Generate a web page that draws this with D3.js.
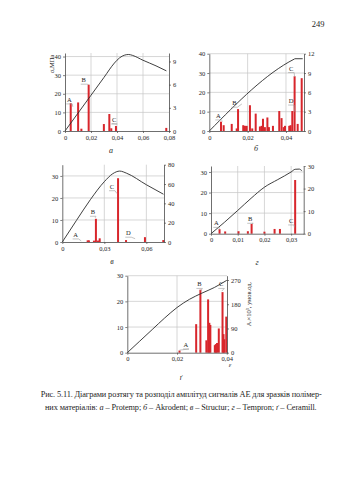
<!DOCTYPE html>
<html><head><meta charset="utf-8">
<script src="https://cdn.jsdelivr.net/npm/d3@7"></script>
<style>
body{margin:0;background:#fff}
svg{display:block}
text{font-family:"Liberation Serif","Times New Roman",serif;fill:#1e1e1e}
</style>
</head><body>
<svg id="c" width="339" height="480"></svg>
<script>
// ---------- DATA ----------
// Panel а – Protemp
const aStrain=[0,0.01,0.02,0.03,0.038,0.042,0.046,0.049,0.052,0.06,0.07,0.078];
const aStress=[0,9.6,19.2,28.8,36.5,39.3,40.8,41.1,40.6,38,35,32.3];
const aBarX=[0.0044,0.0101,0.0126,0.0182,0.0299,0.0341,0.0356,0.0392,0.0779];
const aBarV=[3.6,3.7,0.3,6.0,0.9,2.2,0.35,0.65,0.4];
const aXTicks=[0,0.02,0.04,0.06,0.08], aLTicks=[0,10,20,30,40], aRTicks=[0,3,6,9];
// Panel б – Akrodent
const bStrain=[0,0.0443,0.0447,0.0487];
const bStress=[0,37.2,37.4,37.4];
const bBarX=[0.0061,0.0075,0.0117,0.0143,0.015,0.0177,0.0186,0.0195,0.0212,0.0224,0.0242,0.0264,0.0273,0.028,0.029,0.0303,0.0311,0.0332,0.0365,0.0377,0.0388,0.0395,0.0417,0.0424,0.0433,0.0445,0.0461,0.0482];
const bBarV=[1.45,0.9,1.1,0.4,3.4,0.9,0.8,0.8,4.0,0.4,2.7,0.7,0.8,1.9,0.6,2.1,0.6,0.8,3.1,2.0,0.6,0.8,0.8,0.9,3.1,8.5,1.1,8.2];
const bXTicks=[0,0.02,0.04], bLTicks=[0,10,20,30,40], bRTicks=[0,3,6,9,12];
// Panel в – Structur
const vStrain=[0,0.01,0.02,0.03,0.036,0.041,0.046,0.06,0.0722];
const vStress=[0,9.7,19.2,27.4,31,32.2,31.2,26,21.7];
const vBarX=[0.0181,0.019,0.0226,0.024,0.0255,0.0267,0.0398,0.0455,0.059,0.0721];
const vBarV=[1.7,1.7,1.4,24,1.5,3.8,66,2,5,2];
const vXTicks=[0,0.03,0.06], vLTicks=[0,10,20,30], vRTicks=[0,20,40,60,80];
// Panel г – Tempron
const gStrain=[0,0.005,0.01,0.015,0.02,0.025,0.03,0.0315,0.033,0.034];
const gStress=[0,5.5,11.3,17.2,22.6,26.3,30,31.3,31.4,30.6];
const gBarX=[0.0032,0.0053,0.0103,0.0138,0.0152,0.02,0.0238,0.0258,0.0315];
const gBarV=[2.0,1.0,1.1,1.1,4.3,0.9,2.1,2.1,23.8];
const gXTicks=[0,0.01,0.02,0.03], gLTicks=[0,10,20,30], gRTicks=[0,10,20,30];
// Panel ґ – Ceramill
const hStrain=[0,0.005,0.01,0.015,0.02,0.025,0.03,0.035,0.04];
const hStress=[0,4.5,9,13.5,17.6,20.8,23.2,25.4,28.2];
const hBarX=[0.021,0.0277,0.0294,0.0318,0.0325,0.033,0.0334,0.0352,0.0356,0.0361,0.0368,0.0383,0.0387,0.039,0.0398];
const hBarV=[8,106,234,46,198,111,103,28,32,36,90,225,69,50,134];
const hXTicks=[0,0.02,0.04], hLTicks=[0,10,20,30], hRTicks=[0,90,180,270];
// Stage labels: letter, label position (strain, stress), leader end (strain, stress)
const aLabels=[["A",0.0033,16.7,0.006,13],["B",0.0144,27.3,0.018,25],["C",0.0379,5.9,0.036,4]];
const bLabels=[["A",0.0047,7.8,0.007,5],["B",0.0131,14.4,0.017,14],["C",0.0427,32.3,0.0445,28],["D",0.0427,15.5,0.0445,10]];
const vLabels=[["A",0.0095,3.2,0.0135,0.5],["B",0.0219,13.5,0.0235,11],["C",0.0355,25.1,0.039,22],["D",0.0471,4,0.052,1.5]];
const gLabels=[["A",0.002,5,0.003,2],["B",0.0147,7,0.0153,5],["C",0.030,6.2,0.0312,3]];
const hLabels=[["A",0.0236,3,0.021,1],["B",0.029,26.6,0.0295,24],["C",0.0378,26.6,0.038,24]];

// ---------- DRAW ----------
const svg=d3.select("#c");
const fmt=d=>d===0?"0":String(d).replace(".",",");
const BAR="#d8262c", GRID="#c6c6c6", AX="#4a4a4a";

function panel(p){
  const g=svg.append("g");
  const x=d3.scaleLinear().domain([0,p.xMax]).range([p.x0,p.x1]);
  const yl=d3.scaleLinear().domain([0,p.lMax]).range([p.y0,p.y1]);
  const yr=d3.scaleLinear().domain([0,p.rMax]).range([p.y0,p.y1]);
  g.selectAll("line.vg").data(p.xTicks.filter(t=>t>0&&x(t)<p.x1-2)).join("line")
    .attr("x1",d=>x(d)).attr("x2",d=>x(d)).attr("y1",p.y0).attr("y2",p.y1)
    .attr("stroke",GRID).attr("stroke-width",0.7);
  g.selectAll("line.hg").data(p.lTicks.filter(t=>t>0)).join("line")
    .attr("x1",p.x0).attr("x2",p.x1).attr("y1",d=>yl(d)).attr("y2",d=>yl(d))
    .attr("stroke",GRID).attr("stroke-width",0.7);
  g.selectAll("rect.bar").data(d3.zip(p.bx,p.bv)).join("rect")
    .attr("x",d=>x(d[0])-1).attr("width",2)
    .attr("y",d=>yr(d[1])).attr("height",d=>p.y0-yr(d[1]))
    .attr("fill",BAR);
  g.append("path").datum(d3.zip(p.cx,p.cy))
    .attr("d",d3.line().x(d=>x(d[0])).y(d=>yl(d[1])).curve(d3.curveMonotoneX))
    .attr("fill","none").attr("stroke","#2a2a2a").attr("stroke-width",0.9);
  const style=s=>{s.select(".domain").attr("stroke",AX).attr("stroke-width",0.8);
    s.selectAll(".tick line").attr("stroke",AX).attr("stroke-width",0.7);
    s.selectAll("text").style("font-family",'"Liberation Serif",serif').attr("font-size",6.5).attr("fill","#222");};
  g.append("g").attr("transform",`translate(0,${p.y0})`)
    .call(d3.axisBottom(x).tickValues(p.xTicks).tickFormat(fmt).tickSize(2).tickSizeOuter(0).tickPadding(2)).call(style);
  g.append("g").attr("transform",`translate(${p.x0},0)`)
    .call(d3.axisLeft(yl).tickValues(p.lTicks).tickFormat(d3.format("d")).tickSize(2).tickSizeOuter(0).tickPadding(2)).call(style);
  g.append("g").attr("transform",`translate(${p.x1},0)`)
    .call(d3.axisRight(yr).tickValues(p.rTicks).tickFormat(d3.format("d")).tickSize(2).tickSizeOuter(0).tickPadding(2)).call(style);
  // stage labels
  p.labels.forEach(L=>{
    const lx=x(L[1]), ly=yl(L[2]), ex=x(L[3]), ey=yl(L[4]);
    g.append("path").attr("d",`M${lx-3},${ly+4}L${lx+3},${ly+4}L${ex},${ey}`)
      .attr("fill","none").attr("stroke","#9a9a9a").attr("stroke-width",0.6);
    g.append("text").attr("x",lx).attr("y",ly+2).attr("text-anchor","middle")
      .attr("font-size",6.5).text(L[0]);
  });
  // panel letter
  g.append("text").attr("x",p.lx).attr("y",p.ly).attr("text-anchor","middle")
    .attr("font-size",8).attr("font-style","italic").text(p.letter);
  return {g,x,yl,yr};
}

const pa=panel({x0:65,x1:169,y0:131,y1:53,xMax:0.08,lMax:41.9,rMax:10.1,
  cx:aStrain,cy:aStress,bx:aBarX,bv:aBarV,xTicks:aXTicks,lTicks:aLTicks,rTicks:aRTicks,
  labels:aLabels,letter:"а",lx:111,ly:153});
pa.g.append("text").attr("transform","translate(54,64) rotate(-90)").attr("text-anchor","middle")
  .attr("font-size",6.5).text("σ,MПа");

panel({x0:209.3,x1:304,y0:131,y1:53.7,xMax:0.0494,lMax:40,rMax:12,
  cx:bStrain,cy:bStress,bx:bBarX,bv:bBarV,xTicks:bXTicks,lTicks:bLTicks,rTicks:bRTicks,
  labels:bLabels,letter:"б",lx:256,ly:151});

panel({x0:62.3,x1:164,y0:242,y1:164.7,xMax:0.0726,lMax:35.1,rMax:80,
  cx:vStrain,cy:vStress,bx:vBarX,bv:vBarV,xTicks:vXTicks,lTicks:vLTicks,rTicks:vRTicks,
  labels:vLabels,letter:"в",lx:112,ly:264});

panel({x0:211,x1:303.7,y0:233.7,y1:166,xMax:0.0347,lMax:32.9,rMax:30,
  cx:gStrain,cy:gStress,bx:gBarX,bv:gBarV,xTicks:gXTicks,lTicks:gLTicks,rTicks:gRTicks,
  labels:gLabels,letter:"г",lx:257,ly:265});

const ph=panel({x0:127.3,x1:227,y0:352.7,y1:275.7,xMax:0.0401,lMax:30,rMax:286,
  cx:hStrain,cy:hStress,bx:hBarX,bv:hBarV,xTicks:hXTicks,lTicks:hLTicks,rTicks:hRTicks,
  labels:hLabels,letter:"ґ",lx:181,ly:380});
ph.g.append("text").attr("transform","translate(251,304) rotate(-90)").attr("text-anchor","middle")
  .attr("font-size",6.5).text("Aᵢ×10³, умов.од.");
ph.g.append("text").attr("x",230).attr("y",367).attr("text-anchor","middle")
  .attr("font-size",6.5).attr("font-style","italic").text("ε");

// page number
svg.append("text").attr("x",318).attr("y",27).attr("text-anchor","middle").attr("font-size",8.5).text("249");

// caption
const cap1=svg.append("text").attr("x",40.7).attr("y",397).attr("font-size",8.3)
  .attr("textLength",281).attr("lengthAdjust","spacing")
  .text("Рис. 5.11. Діаграми розтягу та розподіл амплітуд сигналів АЕ для зразків полімер-");
const cap2=svg.append("text").attr("x",45).attr("y",409.5).attr("font-size",8.3)
  .attr("textLength",271.7).attr("lengthAdjust","spacing");
[["них матеріалів: ",0],["а",1],[" – Protemp; ",0],["б",1],[" – Akrodent; ",0],["в",1],[" – Structur; ",0],["г",1],[" – Tempron; ",0],["ґ",1],[" – Ceramill.",0]]
  .forEach(s=>cap2.append("tspan").attr("font-style",s[1]?"italic":"normal").text(s[0]));
</script>
</body></html>
